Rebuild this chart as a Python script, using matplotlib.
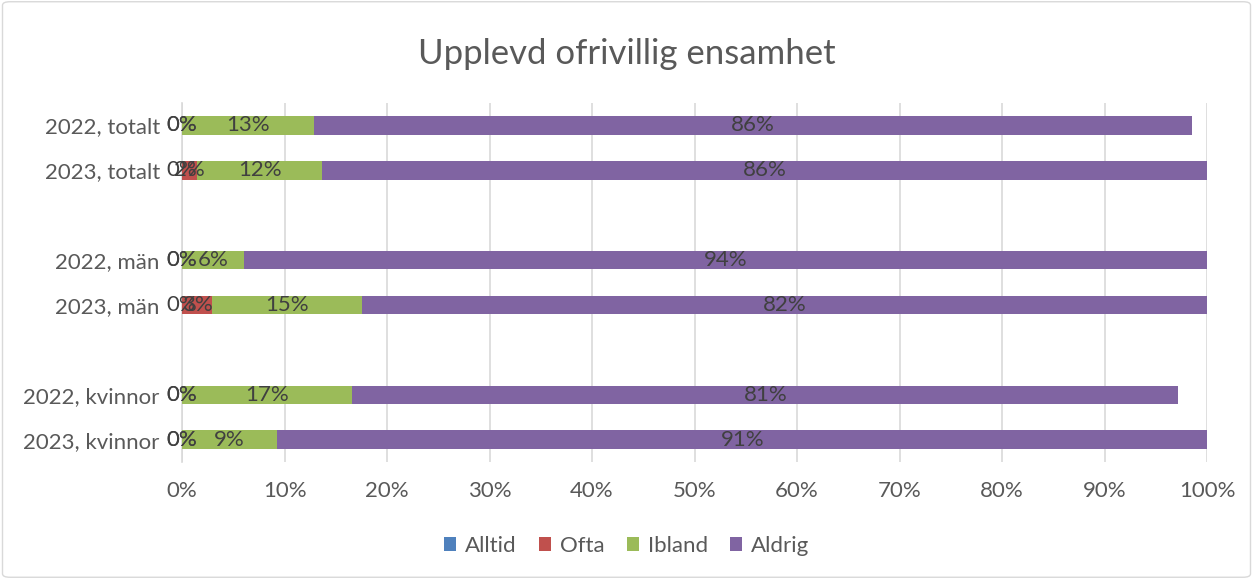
import numpy as np
import matplotlib.pyplot as plt
from matplotlib.patches import FancyBboxPatch

plt.rcParams['font.family'] = ['Lato', 'DejaVu Sans']

# categories top to bottom ("" = empty gap slot)
categories = ["2022, totalt", "2023, totalt", "", "2022, män", "2023, män", "",
              "2022, kvinnor", "2023, kvinnor"]
series = ["Alltid", "Ofta", "Ibland", "Aldrig"]
colors = ["#4f81bd", "#c0504d", "#9bbb59", "#8064a2"]

alltid = [0.0, 0.0, None, 0.0, 0.0, None, 0.0, 0.0]
ofta = [0.0, 1.5, None, 0.0, 2.9, None, 0.0, 0.0]
ibland = [12.9, 12.2, None, 6.0, 14.7, None, 16.6, 9.3]
aldrig = [85.6, 86.3, None, 94.0, 82.4, None, 80.6, 90.7]
values = [alltid, ofta, ibland, aldrig]

fig = plt.figure(figsize=(12.53, 5.79), dpi=100)
ax = fig.add_axes([0.1453, 0.202, 0.818, 0.62])

n = len(categories)
ypos = np.arange(n)[::-1]
left = np.zeros(n)
for name, col, vals in zip(series, colors, values):
    v = np.array([np.nan if x is None else x for x in vals])
    mask = ~np.isnan(v)
    ax.barh(ypos[mask], v[mask], left=left[mask], height=0.41, color=col,
            label=name, zorder=3)
    for y, l, w in zip(ypos[mask], left[mask], v[mask]):
        ax.text(l + w / 2, y, f"{w:.0f}%", ha='center', va='center',
                fontsize=16, color='#404040', zorder=4)
    left[mask] += v[mask]

ax.set_xlim(0, 100)
ax.set_ylim(-0.5, n - 0.5)
ax.set_xticks(np.arange(0, 101, 10))
ax.set_xticklabels([f"{t}%" for t in range(0, 101, 10)])
ax.set_yticks(ypos)
ax.set_yticklabels(categories)
ax.tick_params(axis='both', length=0, labelsize=16, colors='#595959')
ax.tick_params(axis='y', pad=16)
ax.tick_params(axis='x', pad=14)
ax.grid(axis='x', color='#d9d9d9', linewidth=1.2, zorder=0)
for s in ['top', 'right', 'bottom']:
    ax.spines[s].set_visible(False)
ax.spines['left'].set_color('#d9d9d9')
ax.spines['left'].set_linewidth(1.2)

fig.suptitle("Upplevd ofrivillig ensamhet", y=0.935, fontsize=25,
             color='#595959')

fig.legend(loc='center', bbox_to_anchor=(0.5, 0.057), ncol=4, frameon=False,
           fontsize=16, labelcolor='#595959', handlelength=0.55,
           handleheight=0.55, handletextpad=0.4, columnspacing=1.0)

border = FancyBboxPatch((0.002, 0.003), 0.996, 0.994, boxstyle="round,pad=0,rounding_size=0.006",
                        transform=fig.transFigure, fill=False, edgecolor='#d9d9d9',
                        linewidth=1)
fig.patches.append(border)

fig.savefig("out.png", dpi=100, facecolor='white')
